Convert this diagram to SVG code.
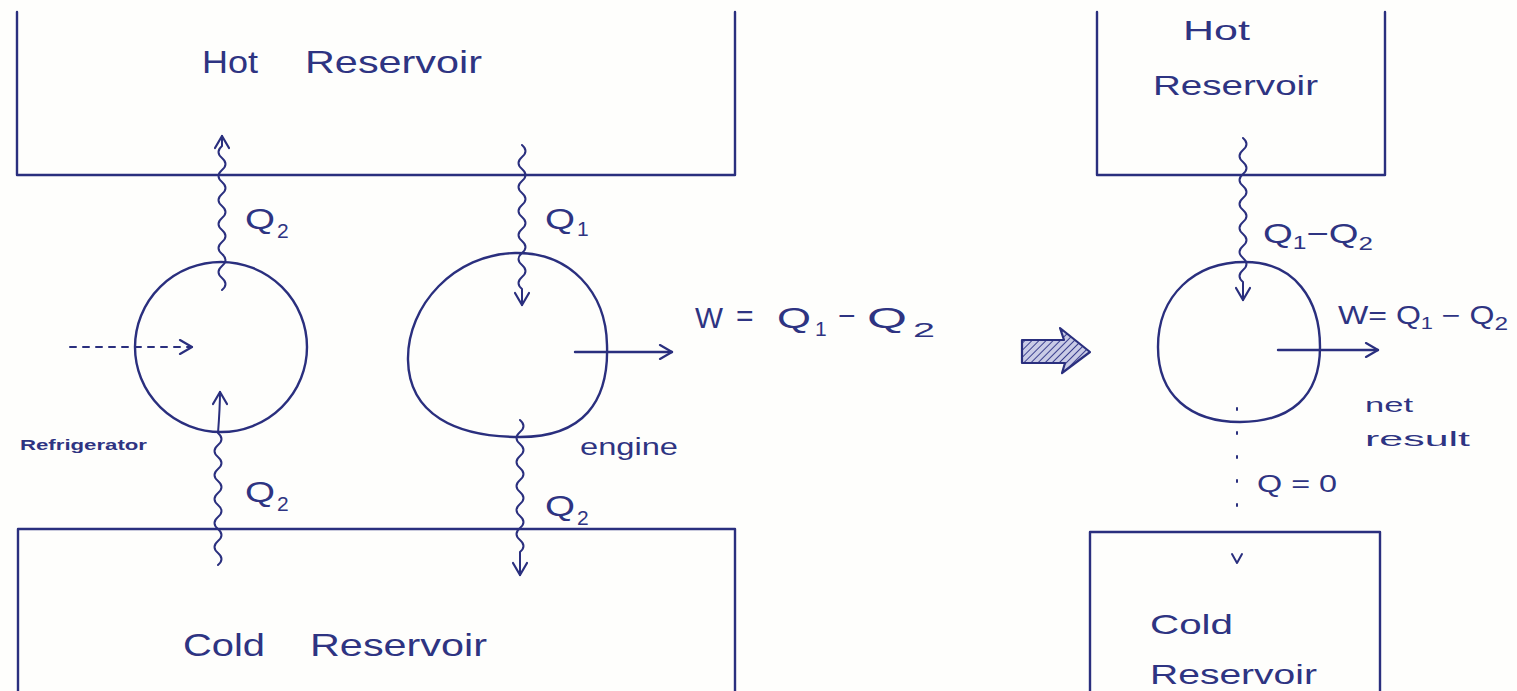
<svg xmlns="http://www.w3.org/2000/svg" width="1517" height="691" viewBox="0 0 1517 691">
<style>
.ink{fill:none;stroke:#2a2f7e;stroke-width:2.4;stroke-linecap:round;stroke-linejoin:round}
.thin{fill:none;stroke:#2a2f7e;stroke-width:2;stroke-linecap:round;stroke-linejoin:round}
.t{font-family:"Liberation Sans",Arial,sans-serif;fill:#2e3482;}
.big{font-size:32px}
.mid{font-size:28px}
.q{font-size:30px}
.sub{font-size:21px}
.small{font-size:15px;font-weight:bold}
</style>
<defs>
<marker id="ah" viewBox="0 0 16 16" refX="14" refY="8" markerWidth="16" markerHeight="16" markerUnits="userSpaceOnUse" orient="auto">
<path d="M2 1 L14 8 L2 15" fill="none" stroke="#2a2f7e" stroke-width="2.2" stroke-linecap="round" stroke-linejoin="round"/>
</marker>
<pattern id="hatch" patternUnits="userSpaceOnUse" width="5" height="5" patternTransform="rotate(45)">
<rect width="5" height="5" fill="#c9cbe6"/>
<line x1="0" y1="0" x2="0" y2="5" stroke="#3a3f8e" stroke-width="2"/>
</pattern>
</defs>
<rect width="1517" height="691" fill="#fefefc"/>

<g id="hot-left">
<path class="ink" d="M17 12 L17 175 L735 175 L735 12"/>
<text class="t big" x="202" y="73" textLength="56" lengthAdjust="spacingAndGlyphs">Hot</text>
<text class="t big" x="305" y="73" textLength="177" lengthAdjust="spacingAndGlyphs">Reservoir</text>
</g>
<g id="cold-left">
<path class="ink" d="M18 691 L18 529 L735 529 L735 691"/>
<text class="t big" x="183" y="656" textLength="82" lengthAdjust="spacingAndGlyphs">Cold</text>
<text class="t big" x="310" y="656" textLength="177" lengthAdjust="spacingAndGlyphs">Reservoir</text>
</g>
<g id="refrigerator">
<ellipse class="ink" cx="221" cy="347" rx="86" ry="85"/>
<text class="t small" x="20" y="450" textLength="127" lengthAdjust="spacingAndGlyphs">Refrigerator</text>
</g>
<g id="engine">
<path class="ink" d="M515 253 C570 252 606 292 607 345 C609 402 583 437 520 437 C455 437 409 414 408 360 C407 305 455 254 515 253 Z"/>
<text class="t" x="580" y="455" style="font-size:23px" textLength="98" lengthAdjust="spacingAndGlyphs">engine</text>
</g>
<g id="arrow-transform">
<path d="M1022 340 L1064 340 L1060 328 L1090 352 L1062 373 L1065 363 L1022 363 Z" fill="url(#hatch)" stroke="#2a2f7e" stroke-width="2.2" stroke-linejoin="round"/>
</g>
<g id="hot-right">
<path class="ink" d="M1097 12 L1097 175 L1385 175 L1385 12"/>
<text class="t mid" x="1183" y="40" textLength="67" lengthAdjust="spacingAndGlyphs">Hot</text>
<text class="t mid" x="1153" y="95" textLength="165" lengthAdjust="spacingAndGlyphs">Reservoir</text>
</g>
<g id="net-cycle">
<path class="ink" d="M1245 262 C1295 262 1320 300 1320 347 C1320 397 1290 422 1240 422 C1190 422 1158 395 1158 347 C1158 295 1195 262 1245 262 Z"/>
</g>
<g id="cold-right">
<path class="ink" d="M1090 691 L1090 532 L1380 532 L1380 691"/>
<text class="t mid" x="1150" y="634" textLength="83" lengthAdjust="spacingAndGlyphs">Cold</text>
<text class="t mid" x="1150" y="684" textLength="167" lengthAdjust="spacingAndGlyphs">Reservoir</text>
</g>

<g id="connectors">
<path class="thin" marker-end="url(#ah)" d="M222 290 q7 -6 0 -12 t0 -12 t0 -12 t0 -12 t0 -12 t0 -12 t0 -12 t0 -12 t0 -12 t0 -12 t0 -12 t0 -12 l0 -10"/>
<path class="thin" marker-end="url(#ah)" d="M218 565 q7 -6 0 -12 t0 -12 t0 -12 t0 -12 t0 -12 t0 -12 t0 -12 t0 -12 t0 -12 t0 -12 t0 -12 C219 420 220 405 220 392"/>
<path class="thin" marker-end="url(#ah)" d="M70 347 L192 347" stroke-dasharray="6 7"/>
<path class="thin" marker-end="url(#ah)" d="M522 145 q7 6 0 12 t0 12 t0 12 t0 12 t0 12 t0 12 t0 12 t0 12 t0 12 t0 12 t0 12 t0 12 l0 16"/>
<path class="thin" marker-end="url(#ah)" d="M520 420 q7 6 0 12 t0 12 t0 12 t0 12 t0 12 t0 12 t0 12 t0 12 t0 12 t0 12 t0 12 l0 23"/>
<path class="ink" marker-end="url(#ah)" d="M575 352 L672 352"/>
<path class="thin" marker-end="url(#ah)" d="M1243 138 q7 6 0 12 t0 12 t0 12 t0 12 t0 12 t0 12 t0 12 t0 12 t0 12 t0 12 t0 12 t0 12 l0 18"/>
<path class="ink" marker-end="url(#ah)" d="M1278 350 L1378 350"/>
<path class="thin" d="M1237 408 L1237 520" stroke-dasharray="2 22"/>
<path class="thin" d="M1232 554 L1237 563 L1242 554"/>
</g>

<g id="labels">
<text class="t q" x="245" y="229" textLength="30" lengthAdjust="spacingAndGlyphs">Q</text><text class="t sub" x="277" y="238">2</text>
<text class="t q" x="545" y="229" textLength="30" lengthAdjust="spacingAndGlyphs">Q</text><text class="t sub" x="577" y="236">1</text>
<text class="t q" x="245" y="502" textLength="30" lengthAdjust="spacingAndGlyphs">Q</text><text class="t sub" x="277" y="511">2</text>
<text class="t q" x="545" y="516" textLength="30" lengthAdjust="spacingAndGlyphs">Q</text><text class="t sub" x="577" y="525">2</text>
<text class="t q" x="695" y="328" textLength="28" lengthAdjust="spacingAndGlyphs">W</text>
<text class="t q" x="736" y="326">=</text>
<text class="t q" x="777" y="328" textLength="34" lengthAdjust="spacingAndGlyphs">Q</text><text class="t sub" x="815" y="336">1</text>
<text class="t q" x="838" y="326">−</text>
<text class="t q" x="867" y="328" textLength="40" lengthAdjust="spacingAndGlyphs">Q</text><text class="t sub" x="913" y="337" textLength="22" lengthAdjust="spacingAndGlyphs">2</text>
<text class="t mid" x="1263" y="243" textLength="110" lengthAdjust="spacingAndGlyphs">Q<tspan font-size="18" dy="6">1</tspan><tspan dy="-6">−Q</tspan><tspan font-size="19" dy="7">2</tspan></text>
<text class="t" x="1338" y="324" style="font-size:25px" textLength="170" lengthAdjust="spacingAndGlyphs">W= Q<tspan font-size="17" dy="5">1</tspan><tspan dy="-5"> − Q</tspan><tspan font-size="19" dy="6">2</tspan></text>
<text class="t" x="1365" y="412" style="font-size:21px" textLength="48" lengthAdjust="spacingAndGlyphs">net</text>
<text class="t" x="1365" y="446" style="font-size:21px" textLength="105" lengthAdjust="spacingAndGlyphs">result</text>
<text class="t" x="1257" y="492" style="font-size:23px" textLength="80" lengthAdjust="spacingAndGlyphs">Q = 0</text>
</g>
</svg>
